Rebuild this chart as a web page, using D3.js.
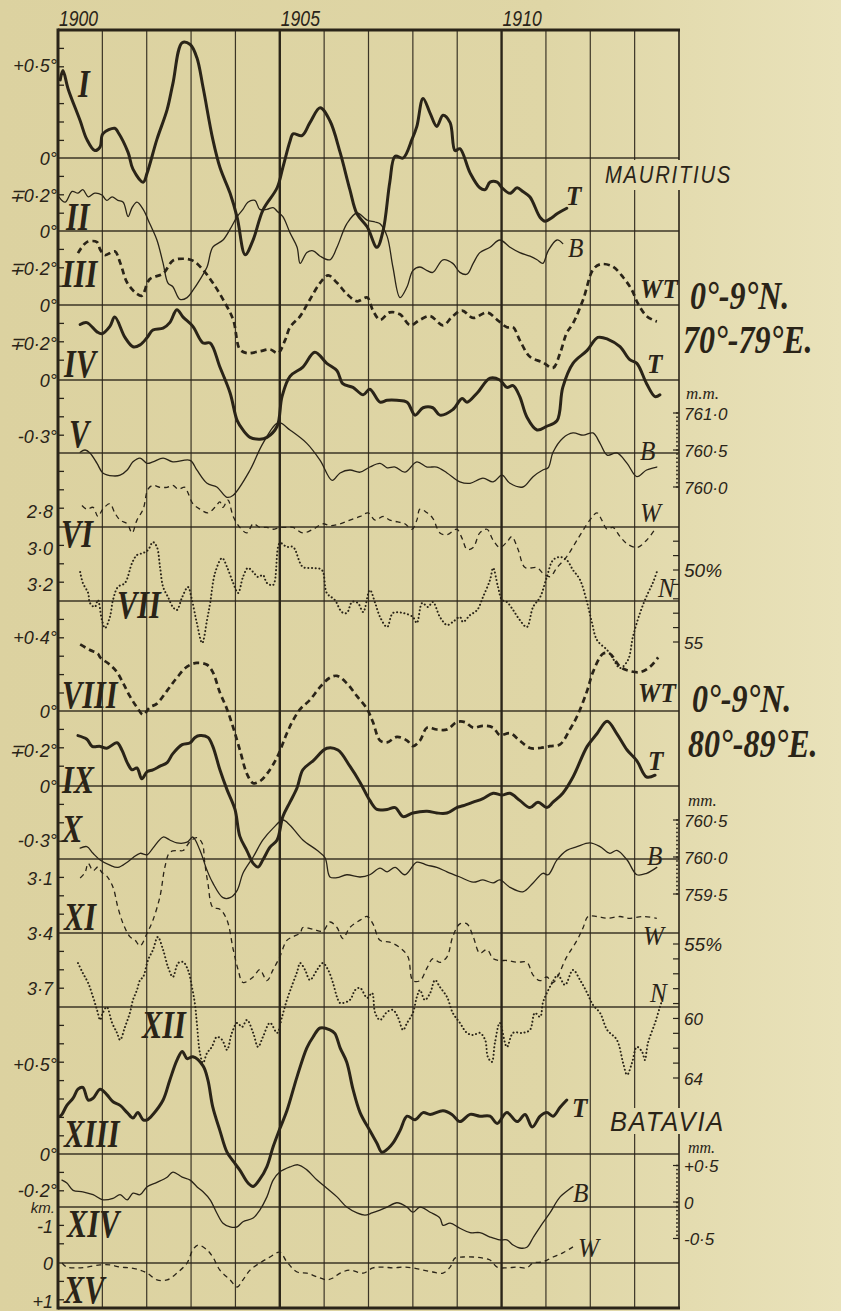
<!DOCTYPE html>
<html>
<head>
<meta charset="utf-8">
<script src="https://cdn.jsdelivr.net/npm/d3@7"></script>
<style>
  html, body { margin: 0; padding: 0; background: #ddd3a2; }
  svg { display: block; }
</style>
</head>
<body>
<svg id="chart" width="841" height="1311"></svg>
<script>
// ---- Year labels along the top ----
const yearLabels = [1900, 1905, 1910];

// ---- Mauritius ----
// I  : air temperature anomaly (deg)
const mauritiusTemp = [[1900.05,0.42],[1900.11,0.47],[1900.23,0.37],[1900.50,0.20],[1900.65,0.10],[1900.83,0.04],[1900.95,0.06],[1901.01,0.13],[1901.28,0.16],[1901.35,0.14],[1901.58,0.03],[1901.69,-0.06],[1901.92,-0.13],[1902.01,-0.08],[1902.23,0.10],[1902.46,0.26],[1902.59,0.40],[1902.80,0.62],[1902.98,0.61],[1903.13,0.54],[1903.27,0.38],[1903.49,0.10],[1903.65,-0.05],[1903.88,-0.19],[1904.04,-0.32],[1904.22,-0.52],[1904.40,-0.44],[1904.62,-0.28],[1904.94,-0.16],[1905.07,-0.05],[1905.23,0.09],[1905.30,0.13],[1905.50,0.12],[1905.68,0.19],[1905.91,0.27],[1906.13,0.20],[1906.36,0.03],[1906.58,-0.17],[1906.74,-0.30],[1906.97,-0.37],[1907.19,-0.48],[1907.33,-0.39],[1907.48,-0.13],[1907.60,0.01],[1907.78,0.00],[1907.98,0.10],[1908.09,0.17],[1908.23,0.32],[1908.39,0.24],[1908.54,0.17],[1908.68,0.23],[1908.84,0.19],[1908.95,0.04],[1909.06,0.05],[1909.29,-0.08],[1909.51,-0.16],[1909.63,-0.17],[1909.74,-0.13],[1909.90,-0.13],[1910.01,-0.16],[1910.19,-0.19],[1910.35,-0.16],[1910.48,-0.18],[1910.64,-0.21],[1910.87,-0.32],[1910.98,-0.34],[1911.14,-0.32],[1911.25,-0.30],[1911.47,-0.27]];
// II : barometric pressure (inverted, deg-equivalent)
const mauritiusPressure = [[1900.02,0.19],[1900.16,0.16],[1900.32,0.22],[1900.45,0.21],[1900.56,0.23],[1900.68,0.19],[1900.83,0.21],[1900.99,0.20],[1901.10,0.17],[1901.22,0.19],[1901.35,0.17],[1901.47,0.16],[1901.58,0.08],[1901.67,0.13],[1901.78,0.16],[1901.92,0.12],[1902.07,0.04],[1902.23,-0.05],[1902.37,-0.18],[1902.48,-0.29],[1902.59,-0.31],[1902.75,-0.38],[1902.91,-0.37],[1903.04,-0.33],[1903.20,-0.27],[1903.36,-0.20],[1903.49,-0.09],[1903.72,-0.05],[1903.88,0.01],[1904.04,0.08],[1904.17,0.12],[1904.28,0.16],[1904.44,0.17],[1904.55,0.12],[1904.71,0.12],[1904.85,0.13],[1904.94,0.11],[1905.07,0.08],[1905.23,-0.01],[1905.39,-0.09],[1905.46,-0.18],[1905.61,-0.12],[1905.75,-0.11],[1905.91,-0.14],[1906.13,-0.16],[1906.29,-0.09],[1906.51,0.04],[1906.74,0.10],[1906.97,0.06],[1907.15,0.05],[1907.26,0.04],[1907.42,-0.03],[1907.55,-0.20],[1907.71,-0.37],[1907.87,-0.31],[1908.00,-0.22],[1908.16,-0.20],[1908.32,-0.22],[1908.45,-0.23],[1908.68,-0.16],[1908.90,-0.18],[1909.06,-0.23],[1909.22,-0.24],[1909.36,-0.18],[1909.51,-0.12],[1909.74,-0.09],[1909.96,-0.05],[1910.19,-0.09],[1910.41,-0.12],[1910.64,-0.14],[1910.80,-0.16],[1910.93,-0.18],[1911.05,-0.11],[1911.25,-0.05],[1911.38,-0.07]];

// ---- 0-9 N, 70-79 E ----
// III : water temperature
const waterTempWest = [[1900.45,0.28],[1900.65,0.34],[1900.88,0.34],[1900.95,0.30],[1901.06,0.27],[1901.28,0.29],[1901.40,0.23],[1901.56,0.12],[1901.78,0.06],[1901.89,0.05],[1902.07,0.14],[1902.37,0.17],[1902.59,0.24],[1902.82,0.25],[1903.04,0.24],[1903.27,0.19],[1903.49,0.12],[1903.72,0.03],[1903.95,-0.08],[1904.10,-0.24],[1904.26,-0.26],[1904.55,-0.25],[1904.78,-0.24],[1904.96,-0.26],[1905.12,-0.19],[1905.23,-0.12],[1905.46,-0.06],[1905.68,0.03],[1905.91,0.12],[1906.09,0.16],[1906.29,0.12],[1906.51,0.06],[1906.74,0.02],[1906.97,0.04],[1907.10,-0.03],[1907.26,-0.08],[1907.48,-0.04],[1907.71,-0.05],[1907.94,-0.11],[1908.16,-0.08],[1908.39,-0.06],[1908.68,-0.11],[1908.90,-0.06],[1909.11,-0.03],[1909.36,-0.07],[1909.67,-0.04],[1909.90,-0.08],[1910.12,-0.12],[1910.26,-0.12],[1910.41,-0.19],[1910.64,-0.28],[1910.93,-0.31],[1911.16,-0.34],[1911.32,-0.26],[1911.47,-0.15],[1911.61,-0.10],[1911.84,0.03],[1912.06,0.19],[1912.22,0.22],[1912.49,0.21],[1912.74,0.15],[1912.94,0.08],[1913.07,0.01],[1913.27,-0.06],[1913.50,-0.09]];
// IV : air temperature
const airTempWest = [[1900.50,0.30],[1900.65,0.31],[1900.88,0.26],[1900.99,0.25],[1901.17,0.29],[1901.28,0.34],[1901.51,0.23],[1901.69,0.18],[1901.85,0.19],[1902.01,0.23],[1902.14,0.27],[1902.37,0.28],[1902.52,0.31],[1902.68,0.38],[1902.82,0.34],[1903.04,0.29],[1903.27,0.20],[1903.43,0.20],[1903.65,0.07],[1903.88,-0.07],[1904.04,-0.22],[1904.17,-0.27],[1904.33,-0.31],[1904.55,-0.32],[1904.71,-0.31],[1904.94,-0.25],[1905.05,-0.09],[1905.23,0.02],[1905.52,0.07],[1905.79,0.15],[1906.06,0.09],[1906.29,0.05],[1906.42,-0.02],[1906.65,-0.04],[1906.88,-0.08],[1907.03,-0.05],[1907.26,-0.12],[1907.42,-0.11],[1907.64,-0.11],[1907.87,-0.12],[1908.05,-0.19],[1908.23,-0.15],[1908.45,-0.15],[1908.61,-0.19],[1908.90,-0.16],[1909.11,-0.10],[1909.22,-0.12],[1909.45,-0.07],[1909.74,0.01],[1909.96,0.00],[1910.12,-0.04],[1910.26,-0.03],[1910.41,-0.09],[1910.57,-0.20],[1910.80,-0.27],[1911.02,-0.25],[1911.25,-0.22],[1911.38,-0.04],[1911.61,0.09],[1911.93,0.16],[1912.17,0.23],[1912.40,0.22],[1912.67,0.18],[1912.89,0.11],[1913.05,0.09],[1913.27,-0.02],[1913.46,-0.09],[1913.57,-0.08]];
// V : barometer (mm)
const pressureWest = [[1900.50,760.47],[1900.61,760.50],[1900.72,760.46],[1900.88,760.32],[1901.01,760.19],[1901.24,760.15],[1901.40,760.16],[1901.56,760.23],[1901.69,760.34],[1901.85,760.39],[1902.01,760.32],[1902.14,760.34],[1902.37,760.39],[1902.59,760.34],[1902.98,760.36],[1903.13,760.23],[1903.36,760.05],[1903.58,760.00],[1903.81,759.86],[1903.95,759.89],[1904.33,760.23],[1904.62,760.59],[1904.97,760.87],[1905.23,760.77],[1905.61,760.59],[1905.91,760.36],[1906.18,760.09],[1906.36,760.19],[1906.58,760.23],[1906.81,760.20],[1907.03,760.27],[1907.26,760.32],[1907.42,760.26],[1907.60,760.27],[1907.82,760.20],[1908.09,760.34],[1908.32,760.27],[1908.54,760.27],[1908.77,760.19],[1909.06,760.07],[1909.29,760.05],[1909.58,760.12],[1909.81,760.07],[1910.01,760.16],[1910.19,760.05],[1910.48,760.00],[1910.71,760.14],[1910.93,760.23],[1911.05,760.26],[1911.16,760.47],[1911.38,760.66],[1911.61,760.73],[1911.84,760.70],[1912.06,760.73],[1912.22,760.59],[1912.38,760.43],[1912.60,760.46],[1912.83,760.32],[1913.05,760.14],[1913.27,760.23],[1913.50,760.27]];
// VI : wind
const windWest = [[1900.54,2.77],[1900.65,2.79],[1900.79,2.78],[1900.90,2.83],[1901.01,2.79],[1901.17,2.76],[1901.28,2.81],[1901.40,2.85],[1901.56,2.87],[1901.67,2.92],[1901.78,2.85],[1901.92,2.79],[1902.03,2.68],[1902.14,2.66],[1902.30,2.67],[1902.46,2.67],[1902.59,2.66],[1902.71,2.68],[1902.86,2.67],[1902.93,2.70],[1903.04,2.76],[1903.20,2.79],[1903.38,2.81],[1903.54,2.78],[1903.65,2.75],[1903.72,2.78],[1903.83,2.74],[1903.95,2.83],[1904.10,2.89],[1904.26,2.92],[1904.40,2.87],[1904.55,2.89],[1904.71,2.89],[1904.85,2.90],[1905.00,2.89],[1905.16,2.89],[1905.30,2.89],[1905.52,2.92],[1905.75,2.90],[1905.97,2.87],[1906.13,2.88],[1906.36,2.87],[1906.58,2.85],[1906.81,2.83],[1906.99,2.81],[1907.15,2.85],[1907.33,2.83],[1907.48,2.85],[1907.66,2.86],[1907.82,2.87],[1907.98,2.90],[1908.09,2.85],[1908.16,2.79],[1908.32,2.81],[1908.45,2.84],[1908.61,2.92],[1908.77,2.93],[1908.99,2.90],[1909.11,2.95],[1909.22,3.01],[1909.36,3.00],[1909.51,2.92],[1909.67,2.90],[1909.81,2.96],[1909.96,3.00],[1910.12,2.97],[1910.23,2.94],[1910.37,3.01],[1910.53,3.11],[1910.80,3.11],[1910.93,3.14],[1911.09,3.16],[1911.25,3.11],[1911.47,3.05],[1911.70,2.96],[1911.99,2.85],[1912.15,2.81],[1912.26,2.85],[1912.38,2.90],[1912.51,2.89],[1912.67,2.94],[1912.83,2.98],[1913.05,3.00],[1913.27,2.96],[1913.46,2.90]];
// VII : cloud / humidity (%)
const cloudWest = [[1900.50,50.14],[1900.56,50.90],[1900.68,51.60],[1900.72,52.29],[1900.83,52.57],[1900.90,52.08],[1900.99,53.47],[1901.06,54.03],[1901.17,53.26],[1901.24,52.08],[1901.35,51.18],[1901.51,50.90],[1901.67,49.51],[1901.78,48.96],[1901.92,48.82],[1902.03,48.61],[1902.14,48.06],[1902.23,48.40],[1902.30,49.79],[1902.37,51.18],[1902.48,51.88],[1902.59,52.57],[1902.68,52.78],[1902.80,51.88],[1902.93,51.18],[1903.02,52.08],[1903.13,53.68],[1903.25,55.07],[1903.36,53.47],[1903.43,52.29],[1903.54,50.21],[1903.70,49.17],[1903.81,49.79],[1903.95,50.90],[1904.06,51.60],[1904.17,50.49],[1904.28,49.86],[1904.40,50.14],[1904.51,50.49],[1904.62,50.35],[1904.71,50.90],[1904.85,51.04],[1905.00,48.13],[1905.16,48.40],[1905.30,48.40],[1905.52,49.79],[1905.75,49.86],[1905.95,50.00],[1906.06,51.60],[1906.24,52.08],[1906.40,52.92],[1906.51,52.99],[1906.63,52.22],[1906.76,52.29],[1906.88,52.92],[1907.03,51.39],[1907.15,52.29],[1907.26,53.26],[1907.42,53.96],[1907.55,52.99],[1907.78,52.99],[1908.00,53.26],[1908.09,53.68],[1908.21,52.29],[1908.34,52.57],[1908.45,52.22],[1908.61,53.26],[1908.77,53.82],[1908.90,53.61],[1909.06,53.26],[1909.13,53.61],[1909.29,53.13],[1909.45,52.78],[1909.58,51.88],[1909.74,50.69],[1909.81,49.86],[1909.92,51.18],[1910.01,52.08],[1910.12,52.22],[1910.26,52.78],[1910.41,53.47],[1910.57,53.96],[1910.71,52.57],[1910.87,51.88],[1911.02,50.49],[1911.16,49.31],[1911.32,49.10],[1911.47,49.31],[1911.61,50.00],[1911.77,50.69],[1911.93,52.29],[1912.04,53.68],[1912.15,54.86],[1912.38,55.56],[1912.49,56.04],[1912.67,56.81],[1912.85,56.25],[1912.96,54.65],[1913.12,52.99],[1913.28,51.74],[1913.41,50.90],[1913.50,50.14]];

// ---- 0-9 N, 80-89 E ----
// VIII : water temperature
const waterTempEast = [[1900.50,0.36],[1900.72,0.33],[1900.90,0.31],[1900.95,0.29],[1901.17,0.25],[1901.33,0.21],[1901.47,0.15],[1901.62,0.08],[1901.78,0.02],[1901.92,-0.02],[1902.07,0.02],[1902.23,0.04],[1902.46,0.11],[1902.68,0.18],[1902.91,0.24],[1903.13,0.26],[1903.36,0.25],[1903.49,0.21],[1903.65,0.10],[1903.81,0.01],[1903.95,-0.09],[1904.10,-0.21],[1904.26,-0.34],[1904.40,-0.39],[1904.55,-0.38],[1904.71,-0.34],[1904.94,-0.25],[1905.16,-0.12],[1905.30,-0.05],[1905.46,0.01],[1905.68,0.06],[1905.91,0.13],[1906.13,0.18],[1906.29,0.19],[1906.51,0.15],[1906.74,0.08],[1906.97,0.01],[1907.10,-0.06],[1907.26,-0.16],[1907.42,-0.17],[1907.64,-0.14],[1907.87,-0.16],[1908.00,-0.19],[1908.16,-0.16],[1908.32,-0.09],[1908.54,-0.10],[1908.77,-0.10],[1908.99,-0.06],[1909.17,-0.06],[1909.36,-0.09],[1909.58,-0.08],[1909.81,-0.09],[1909.96,-0.13],[1910.19,-0.12],[1910.41,-0.16],[1910.64,-0.20],[1910.87,-0.20],[1911.09,-0.19],[1911.32,-0.18],[1911.54,-0.10],[1911.70,-0.03],[1911.93,0.11],[1912.06,0.21],[1912.29,0.31],[1912.44,0.31],[1912.67,0.24],[1912.83,0.22],[1913.12,0.21],[1913.35,0.24],[1913.53,0.29]];
// IX : air temperature
const airTempEast = [[1900.45,0.28],[1900.65,0.26],[1900.77,0.22],[1900.95,0.22],[1901.10,0.21],[1901.33,0.24],[1901.44,0.20],[1901.56,0.13],[1901.67,0.09],[1901.78,0.10],[1901.89,0.04],[1902.01,0.08],[1902.14,0.09],[1902.30,0.11],[1902.46,0.13],[1902.59,0.18],[1902.80,0.23],[1902.98,0.24],[1903.09,0.27],[1903.20,0.28],[1903.38,0.27],[1903.49,0.22],[1903.65,0.09],[1903.81,-0.02],[1903.99,-0.13],[1904.10,-0.28],[1904.26,-0.36],[1904.40,-0.43],[1904.51,-0.45],[1904.62,-0.41],[1904.78,-0.34],[1904.94,-0.30],[1905.07,-0.17],[1905.23,-0.09],[1905.39,-0.01],[1905.52,0.09],[1905.75,0.14],[1906.06,0.21],[1906.31,0.20],[1906.58,0.11],[1906.81,0.02],[1907.03,-0.08],[1907.19,-0.13],[1907.42,-0.13],[1907.60,-0.12],[1907.78,-0.17],[1908.00,-0.15],[1908.32,-0.14],[1908.54,-0.15],[1908.77,-0.15],[1908.99,-0.12],[1909.13,-0.11],[1909.36,-0.09],[1909.58,-0.07],[1909.81,-0.04],[1910.01,-0.05],[1910.19,-0.04],[1910.41,-0.08],[1910.64,-0.12],[1910.82,-0.09],[1911.02,-0.12],[1911.16,-0.09],[1911.38,-0.04],[1911.61,0.05],[1911.93,0.22],[1912.15,0.29],[1912.38,0.36],[1912.60,0.29],[1912.83,0.20],[1913.05,0.14],[1913.27,0.05],[1913.46,0.06]];
// X : barometer (mm)
const pressureEast = [[1900.50,760.12],[1900.65,760.14],[1900.79,760.05],[1900.95,759.96],[1901.17,759.89],[1901.35,759.86],[1901.56,759.93],[1901.69,759.99],[1901.85,760.05],[1902.01,760.03],[1902.14,760.12],[1902.37,760.27],[1902.52,760.23],[1902.68,760.19],[1902.91,760.20],[1903.04,760.27],[1903.20,760.09],[1903.36,759.82],[1903.49,759.65],[1903.72,759.45],[1903.88,759.45],[1904.04,759.55],[1904.17,759.78],[1904.40,760.00],[1904.62,760.23],[1904.85,760.39],[1905.07,760.50],[1905.23,760.43],[1905.52,760.23],[1905.84,760.09],[1906.02,759.99],[1906.13,759.73],[1906.29,759.72],[1906.51,759.76],[1906.81,759.73],[1907.03,759.76],[1907.26,759.85],[1907.42,759.80],[1907.60,759.86],[1907.82,759.76],[1908.09,759.93],[1908.32,759.89],[1908.54,759.86],[1908.77,759.80],[1909.06,759.73],[1909.36,759.66],[1909.58,759.69],[1909.81,759.65],[1909.96,759.69],[1910.19,759.59],[1910.48,759.53],[1910.71,759.65],[1910.93,759.78],[1911.05,759.76],[1911.25,759.96],[1911.47,760.09],[1911.70,760.14],[1911.99,760.19],[1912.22,760.14],[1912.44,760.05],[1912.60,760.09],[1912.83,759.96],[1913.05,759.76],[1913.27,759.78],[1913.50,759.86]];
// XI : wind
const windEast = [[1900.50,3.10],[1900.61,3.07],[1900.68,3.02],[1900.79,3.06],[1900.90,3.04],[1900.99,3.07],[1901.10,3.09],[1901.24,3.15],[1901.35,3.26],[1901.47,3.35],[1901.62,3.42],[1901.74,3.44],[1901.85,3.47],[1902.01,3.40],[1902.14,3.33],[1902.30,3.20],[1902.41,3.04],[1902.52,2.96],[1902.68,2.95],[1902.82,2.95],[1902.98,2.90],[1903.13,2.88],[1903.25,2.91],[1903.31,3.02],[1903.38,3.13],[1903.49,3.26],[1903.65,3.27],[1903.81,3.33],[1903.95,3.49],[1904.06,3.60],[1904.17,3.67],[1904.40,3.64],[1904.55,3.60],[1904.71,3.66],[1904.85,3.60],[1905.00,3.53],[1905.16,3.44],[1905.30,3.42],[1905.46,3.40],[1905.52,3.37],[1905.75,3.38],[1905.97,3.39],[1906.13,3.34],[1906.29,3.37],[1906.42,3.43],[1906.58,3.37],[1906.81,3.33],[1906.97,3.31],[1907.10,3.35],[1907.26,3.44],[1907.48,3.45],[1907.71,3.48],[1907.89,3.53],[1908.00,3.66],[1908.16,3.66],[1908.32,3.59],[1908.45,3.54],[1908.61,3.56],[1908.77,3.53],[1908.90,3.42],[1909.06,3.35],[1909.22,3.35],[1909.36,3.42],[1909.51,3.51],[1909.67,3.49],[1909.81,3.54],[1909.96,3.55],[1910.12,3.55],[1910.35,3.56],[1910.57,3.56],[1910.71,3.63],[1910.87,3.66],[1911.02,3.64],[1911.16,3.67],[1911.47,3.53],[1911.70,3.44],[1911.84,3.37],[1911.95,3.31],[1912.15,3.31],[1912.38,3.32],[1912.67,3.31],[1912.89,3.32],[1913.19,3.31],[1913.50,3.32]];
// XII : cloud / humidity (%)
const cloudEast = [[1900.45,56.28],[1900.56,56.95],[1900.68,57.62],[1900.79,58.56],[1900.88,59.43],[1900.95,60.10],[1901.01,59.63],[1901.10,59.23],[1901.22,60.30],[1901.33,60.97],[1901.40,61.44],[1901.51,60.57],[1901.62,59.63],[1901.69,58.76],[1901.78,58.09],[1901.85,57.42],[1901.92,57.21],[1902.03,56.07],[1902.14,55.40],[1902.25,54.53],[1902.37,55.40],[1902.48,56.54],[1902.59,57.21],[1902.71,56.28],[1902.82,56.21],[1902.93,56.74],[1903.02,57.89],[1903.09,59.09],[1903.13,60.30],[1903.20,62.32],[1903.27,62.99],[1903.36,62.32],[1903.47,61.91],[1903.58,61.24],[1903.70,61.44],[1903.81,62.11],[1903.92,60.97],[1904.04,60.30],[1904.15,60.57],[1904.26,60.10],[1904.40,60.97],[1904.51,61.91],[1904.62,61.24],[1904.78,60.30],[1904.94,60.97],[1905.05,59.90],[1905.16,58.76],[1905.28,57.75],[1905.39,56.88],[1905.46,56.28],[1905.57,56.74],[1905.68,57.42],[1905.84,56.74],[1905.97,56.28],[1906.09,56.74],[1906.20,57.62],[1906.29,58.56],[1906.36,58.96],[1906.58,58.76],[1906.70,58.09],[1906.81,57.95],[1906.97,58.62],[1907.08,58.29],[1907.15,59.63],[1907.26,60.10],[1907.42,59.56],[1907.55,59.43],[1907.66,59.90],[1907.78,60.77],[1907.87,60.30],[1908.00,59.63],[1908.09,58.56],[1908.16,58.09],[1908.27,58.76],[1908.39,58.29],[1908.50,57.42],[1908.61,57.89],[1908.77,58.56],[1908.90,59.63],[1909.06,60.30],[1909.22,60.97],[1909.36,61.11],[1909.51,60.97],[1909.63,61.44],[1909.69,62.58],[1909.78,62.92],[1909.85,61.64],[1909.96,60.30],[1910.12,61.91],[1910.26,60.97],[1910.48,60.97],[1910.64,60.77],[1910.75,59.63],[1910.87,59.90],[1910.93,58.96],[1911.02,58.29],[1911.14,57.62],[1911.27,57.08],[1911.43,57.75],[1911.61,56.74],[1911.77,57.42],[1911.93,58.29],[1912.06,59.09],[1912.22,59.63],[1912.38,60.77],[1912.60,61.44],[1912.74,62.99],[1912.83,63.79],[1912.94,62.99],[1913.05,61.91],[1913.17,62.25],[1913.23,62.79],[1913.30,61.64],[1913.46,60.30],[1913.57,59.23],[1913.62,58.76]];

// ---- Batavia ----
// XIII : air temperature
const bataviaTemp = [[1900.05,0.21],[1900.09,0.22],[1900.20,0.27],[1900.34,0.31],[1900.45,0.36],[1900.56,0.37],[1900.68,0.30],[1900.79,0.31],[1900.95,0.36],[1901.10,0.33],[1901.24,0.29],[1901.40,0.27],[1901.56,0.23],[1901.69,0.20],[1901.80,0.23],[1901.92,0.19],[1902.01,0.19],[1902.14,0.22],[1902.37,0.30],[1902.52,0.41],[1902.68,0.52],[1902.80,0.57],[1902.91,0.53],[1903.04,0.54],[1903.27,0.49],[1903.38,0.41],[1903.49,0.26],[1903.65,0.13],[1903.81,0.01],[1903.95,-0.04],[1904.10,-0.09],[1904.28,-0.16],[1904.40,-0.18],[1904.55,-0.14],[1904.71,-0.07],[1904.85,0.04],[1905.00,0.14],[1905.16,0.24],[1905.39,0.43],[1905.61,0.59],[1905.75,0.65],[1905.91,0.70],[1906.13,0.69],[1906.24,0.67],[1906.36,0.59],[1906.51,0.51],[1906.65,0.36],[1906.81,0.23],[1907.03,0.13],[1907.19,0.06],[1907.30,0.01],[1907.44,0.03],[1907.55,0.06],[1907.71,0.13],[1907.87,0.21],[1908.05,0.19],[1908.23,0.23],[1908.39,0.22],[1908.68,0.24],[1908.88,0.22],[1909.06,0.18],[1909.29,0.22],[1909.51,0.21],[1909.74,0.21],[1909.90,0.17],[1910.12,0.23],[1910.35,0.18],[1910.53,0.22],[1910.69,0.15],[1910.87,0.21],[1911.02,0.23],[1911.16,0.21],[1911.32,0.26],[1911.47,0.30]];
// XIV : barometer anomaly (mm)
const bataviaPressure = [[1900.09,0.30],[1900.20,0.26],[1900.34,0.16],[1900.56,0.14],[1900.79,0.10],[1901.01,0.03],[1901.24,0.05],[1901.40,0.10],[1901.56,0.03],[1901.69,0.12],[1901.85,0.10],[1902.01,0.21],[1902.23,0.27],[1902.46,0.34],[1902.59,0.41],[1902.80,0.34],[1902.98,0.30],[1903.13,0.21],[1903.27,0.14],[1903.43,0.03],[1903.58,-0.15],[1903.72,-0.29],[1903.88,-0.34],[1904.04,-0.34],[1904.17,-0.27],[1904.40,-0.22],[1904.55,-0.11],[1904.71,0.07],[1904.85,0.30],[1905.00,0.41],[1905.23,0.48],[1905.41,0.51],[1905.61,0.44],[1905.84,0.30],[1906.06,0.19],[1906.29,0.07],[1906.51,-0.07],[1906.74,-0.15],[1906.92,-0.18],[1907.08,-0.15],[1907.26,-0.11],[1907.42,-0.07],[1907.64,-0.01],[1907.87,-0.07],[1908.00,-0.14],[1908.16,-0.07],[1908.39,-0.14],[1908.61,-0.22],[1908.68,-0.32],[1908.84,-0.29],[1909.06,-0.36],[1909.29,-0.42],[1909.51,-0.42],[1909.74,-0.48],[1909.96,-0.52],[1910.12,-0.52],[1910.26,-0.59],[1910.41,-0.63],[1910.57,-0.62],[1910.71,-0.49],[1910.87,-0.34],[1911.09,-0.15],[1911.32,0.07],[1911.61,0.21]];
// XV : wind (km)
const bataviaWind = [[1900.09,0.00],[1900.20,0.11],[1900.43,0.13],[1900.65,0.11],[1900.95,0.05],[1901.17,0.05],[1901.40,0.11],[1901.62,0.13],[1901.85,0.19],[1902.01,0.27],[1902.23,0.45],[1902.46,0.45],[1902.68,0.27],[1902.91,0.00],[1903.04,-0.35],[1903.16,-0.48],[1903.36,-0.35],[1903.49,-0.16],[1903.65,0.19],[1903.88,0.45],[1904.04,0.64],[1904.17,0.45],[1904.33,0.19],[1904.55,0.00],[1904.78,-0.16],[1905.00,-0.29],[1905.16,-0.03],[1905.39,0.24],[1905.61,0.27],[1905.84,0.37],[1906.06,0.45],[1906.20,0.40],[1906.36,0.27],[1906.58,0.19],[1906.88,0.27],[1907.10,0.13],[1907.33,0.11],[1907.55,0.13],[1907.78,0.11],[1908.00,0.13],[1908.23,0.19],[1908.45,0.24],[1908.68,0.27],[1908.84,0.11],[1908.95,-0.13],[1909.13,-0.16],[1909.36,-0.16],[1909.58,-0.13],[1909.74,-0.08],[1909.90,0.11],[1910.12,0.13],[1910.35,0.11],[1910.57,0.13],[1910.71,0.00],[1910.93,-0.03],[1911.16,-0.16],[1911.38,-0.27],[1911.61,-0.43]];

// ---- Scale labels (text, series, value) ----
const leftScaleLabels = [
  ['+0·5°','I',0.5],['0°','I',0],['∓0·2°','II',0.2],['0°','II',0],['∓0·2°','III',0.2],['0°','III',0],
  ['∓0·2°','IV',0.2],['0°','IV',0],['-0·3°','IV',-0.3],['2·8','VI',2.8],['3·0','VI',3.0],['3·2','VI',3.2],
  ['+0·4°','VIII',0.4],['0°','VIII',0],['∓0·2°','IX',0.2],['0°','IX',0],['-0·3°','IX',-0.3],
  ['3·1','XI',3.1],['3·4','XI',3.4],['3·7','XI',3.7],['+0·5°','XIII',0.5],['0°','XIII',0],['-0·2°','XIII',-0.2],
  ['-1','XV',-1],['0','XV',0],['+1','XV',1]
];
const rightScaleLabels = [
  ['761·0','V',761],['760·5','V',760.5],['760·0','V',760],['50%','VII',50],['55','VII',55],
  ['760·5','X',760.5],['760·0','X',760],['759·5','X',759.5],['55%','XII',55],['60','XII',60],['64','XII',64],
  ['+0·5','XIV',0.5],['0','XIV',0],['-0·5','XIV',-0.5]
];
const pressureTicks = { V: [761, 760.5, 760], X: [760.5, 760, 759.5], XIV: [0.5, 0, -0.5] };
const percentTicks = { VII: [48, 49, 50, 51, 52, 53, 54, 55], XII: [55, 56, 57, 58, 59, 60, 61, 62, 63, 64] };
const regionHeadings = [['0°-9°N.', '70°-79°E.'], ['0°-9°N.', '80°-89°E.']];

// ---------------------------------------------------------------
const INK = '#2a2418';
const svg = d3.select('#chart');
const W = 841, H = 1311;
const plotL = 58, plotR = 679, plotT = 30, plotB = 1308;

const defs = svg.append('defs');
const grad = defs.append('linearGradient').attr('id', 'paper')
  .attr('gradientUnits', 'userSpaceOnUse').attr('x1', 0).attr('y1', 0).attr('x2', W).attr('y2', 0);
grad.append('stop').attr('offset', '0%').attr('stop-color', '#dcd2a0');
grad.append('stop').attr('offset', '65%').attr('stop-color', '#dfd6a6');
grad.append('stop').attr('offset', '100%').attr('stop-color', '#e9e2ba');
svg.append('rect').attr('width', W).attr('height', H).attr('fill', 'url(#paper)');

const x = d3.scaleLinear().domain([1900, 1914]).range([plotL, plotR]);

// one vertical scale per curve (layout)
const panels = [
  { id: 'I',    data: mauritiusTemp,     dom: [0, 0.5],       rng: [158, 65],        kind: 'heavy',     num: [78, 97] },
  { id: 'II',   data: mauritiusPressure, dom: [0, 0.2],       rng: [231, 195],       kind: 'light',     num: [66, 230] },
  { id: 'III',  data: waterTempWest,     dom: [0, 0.2],       rng: [305, 268],       kind: 'heavyDash', num: [62, 287] },
  { id: 'IV',   data: airTempWest,       dom: [0, 0.2],       rng: [380, 343],       kind: 'heavy',     num: [64, 377] },
  { id: 'V',    data: pressureWest,      dom: [760, 761],     rng: [487, 413],       kind: 'light',     num: [69, 447] },
  { id: 'VI',   data: windWest,          dom: [2.8, 3.0],     rng: [511, 547.5],     kind: 'lightDash', num: [61, 547] },
  { id: 'VII',  data: cloudWest,         dom: [50, 55],       rng: [570, 642],       kind: 'dot',       num: [117, 618] },
  { id: 'VIII', data: waterTempEast,     dom: [0, 0.4],       rng: [711, 637],       kind: 'heavyDash', num: [62, 708] },
  { id: 'IX',   data: airTempEast,       dom: [0, 0.2],       rng: [786, 750],       kind: 'heavy',     num: [62, 793] },
  { id: 'X',    data: pressureEast,      dom: [759.5, 760.5], rng: [894, 820],       kind: 'light',     num: [62, 842] },
  { id: 'XI',   data: windEast,          dom: [3.1, 3.7],     rng: [878, 988],       kind: 'lightDash', num: [64, 930] },
  { id: 'XII',  data: cloudEast,         dom: [55, 64],       rng: [944, 1078],      kind: 'dot',       num: [142, 1038] },
  { id: 'XIII', data: bataviaTemp,       dom: [0, 0.5],       rng: [1154, 1064],     kind: 'heavy',     num: [64, 1147] },
  { id: 'XIV',  data: bataviaPressure,   dom: [-0.5, 0.5],    rng: [1238.5, 1165.5], kind: 'light',     num: [67, 1237] },
  { id: 'XV',   data: bataviaWind,       dom: [-1, 1],        rng: [1225.5, 1300.5], kind: 'lightDash', num: [64, 1303] }
];
const yOf = {};
panels.forEach(p => { p.y = d3.scaleLinear().domain(p.dom).range(p.rng); yOf[p.id] = p.y; });

// ---- grid ----
const hRules = [158, 231, 305, 380, 453, 527, 601, 711, 786, 859, 933, 1007, 1154, 1207, 1263];
const grid = svg.append('g').attr('stroke', INK).attr('fill', 'none');
grid.selectAll('line.h').data(hRules).join('line')
  .attr('x1', plotL).attr('x2', plotR).attr('y1', d => d).attr('y2', d => d)
  .attr('stroke-width', 1.3).attr('opacity', 0.9);
const yearLines = d3.range(1901, 1914);
grid.selectAll('line.v').data(yearLines).join('line')
  .attr('x1', d => x(d)).attr('x2', d => x(d)).attr('y1', plotT).attr('y2', plotB)
  .attr('stroke-width', d => (d % 5 === 0 ? 2.4 : 1.2)).attr('opacity', d => (d % 5 === 0 ? 1 : 0.9));

// short ticks along the left edge
const stops = [plotT].concat(hRules).concat([plotB]);
const leftTicks = [];
for (let i = 0; i < stops.length - 1; i++) {
  for (let yy = stops[i] + 18.4; yy < stops[i + 1] - 6; yy += 18.4) leftTicks.push(yy);
}
grid.selectAll('line.lt').data(leftTicks).join('line')
  .attr('x1', plotL).attr('x2', plotL + 6).attr('y1', d => d).attr('y2', d => d).attr('stroke-width', 1.3);

// frame
grid.append('line').attr('x1', plotL).attr('x2', plotL).attr('y1', plotT - 1.5).attr('y2', plotB + 1.5).attr('stroke-width', 3);
grid.append('line').attr('x1', plotL).attr('x2', plotR + 1).attr('y1', plotT).attr('y2', plotT).attr('stroke-width', 3);
grid.append('line').attr('x1', plotL).attr('x2', plotR + 1).attr('y1', plotB).attr('y2', plotB).attr('stroke-width', 3);
grid.append('line').attr('x1', plotR).attr('x2', plotR).attr('y1', plotT).attr('y2', plotB).attr('stroke-width', 1.6);

// right-edge scale marks
Object.entries(pressureTicks).forEach(([id, vals]) => {
  const s = yOf[id];
  grid.append('line').attr('x1', plotR - 2).attr('x2', plotR - 2)
    .attr('y1', s(vals[0])).attr('y2', s(vals[vals.length - 1]))
    .attr('stroke-width', 1.8).attr('stroke-dasharray', '0.1 4').attr('stroke-linecap', 'round');
  vals.forEach(v => grid.append('line').attr('x1', plotR - 6).attr('x2', plotR).attr('y1', s(v)).attr('y2', s(v)).attr('stroke-width', 1.2));
});
Object.entries(percentTicks).forEach(([id, vals]) => {
  const s = yOf[id];
  vals.forEach(v => grid.append('line').attr('x1', plotR - 6).attr('x2', plotR).attr('y1', s(v)).attr('y2', s(v)).attr('stroke-width', 1.2));
});

// station names break the grid lines they sit on
function stationName(txt, tx, ty, size, sx, box) {
  svg.append('rect').attr('x', box[0]).attr('y', box[1]).attr('width', box[2]).attr('height', box[3]).attr('fill', 'url(#paper)');
  svg.append('text').attr('transform', `translate(${tx},${ty}) scale(${sx},1)`)
    .attr('font-family', 'Liberation Sans, Arial, sans-serif').attr('font-style', 'italic')
    .attr('font-size', size).attr('letter-spacing', 2).attr('fill', INK).text(txt);
}
stationName('MAURITIUS', 605, 183, 23, 0.88, [600, 160, 140, 30]);
stationName('BATAVIA', 610, 1131, 28, 0.91, [606, 1108, 124, 26]);

// ---- curves ----
const styles = {
  heavy:     { w: 3.0, dash: null, cap: 'round' },
  light:     { w: 1.3, dash: null, cap: 'round' },
  heavyDash: { w: 2.7, dash: '6 4', cap: 'butt' },
  lightDash: { w: 1.3, dash: '5 4', cap: 'butt' },
  dot:       { w: 2.0, dash: '0.1 3.6', cap: 'round' }
};
const curves = svg.append('g').attr('fill', 'none').attr('stroke', INK).attr('stroke-linejoin', 'round');
panels.forEach(p => {
  const st = styles[p.kind];
  const line = d3.line().x(d => x(d[0])).y(d => p.y(d[1])).curve(d3.curveCatmullRom.alpha(0.5));
  curves.append('path').attr('d', line(p.data))
    .attr('stroke-width', st.w).attr('stroke-linecap', st.cap)
    .attr('stroke-dasharray', st.dash);
});

// ---- text ----
const serif = 'Liberation Serif, Times New Roman, serif';
const sans = 'Liberation Sans, Arial, sans-serif';

// years on top
svg.append('g').selectAll('text').data(yearLabels).join('text')
  .attr('transform', d => `translate(${x(d) + 1},26) scale(0.8,1)`)
  .attr('font-family', sans).attr('font-style', 'italic').attr('font-size', 22).attr('fill', INK)
  .text(d => d);

// roman numerals
svg.append('g').selectAll('text').data(panels).join('text')
  .attr('transform', d => `translate(${d.num[0]},${d.num[1]}) scale(0.74,1)`)
  .attr('font-family', serif).attr('font-style', 'italic').attr('font-weight', 'bold')
  .attr('font-size', 41).attr('fill', INK).text(d => d.id);

// left scale labels
svg.append('g').selectAll('text').data(leftScaleLabels).join('text')
  .attr('x', d => (d[0].includes('°') ? 57 : 53)).attr('y', d => yOf[d[1]](d[2]) + 7)
  .attr('text-anchor', 'end')
  .attr('font-family', sans).attr('font-style', 'italic').attr('font-size', 18).attr('fill', INK)
  .text(d => d[0]);
svg.append('text').attr('x', 55).attr('y', 1213).attr('text-anchor', 'end')
  .attr('font-family', sans).attr('font-style', 'italic').attr('font-size', 15).attr('fill', INK).text('km.');

// right scale labels
svg.append('g').selectAll('text').data(rightScaleLabels).join('text')
  .attr('x', 684).attr('y', d => yOf[d[1]](d[2]) + 6.5)
  .attr('font-family', sans).attr('font-style', 'italic')
  .attr('font-size', d => (d[0].includes('%') ? 19 : 17)).attr('fill', INK)
  .text(d => d[0]);
[['m.m.', 686, 399, 17], ['mm.', 688, 806, 17], ['mm.', 688, 1152.5, 16]].forEach(([t, tx, ty, fs]) => {
  svg.append('text').attr('x', tx).attr('y', ty).attr('font-family', serif).attr('font-style', 'italic')
    .attr('font-size', fs).attr('fill', INK).text(t);
});

// curve tags at the right ends
const tags = [
  ['T', 566, 205, true], ['B', 568, 257, false], ['WT', 640, 298, true],
  ['T', 647, 373, true], ['B', 640, 460, false], ['W', 640, 522, false], ['N', 658, 597, false],
  ['WT', 638, 702, true], ['T', 648, 770, true], ['B', 647, 865, false], ['W', 643, 945, false], ['N', 650, 1002, false],
  ['T', 572, 1117, true], ['B', 573, 1202, false], ['W', 578, 1257, false]
];
svg.append('g').selectAll('text').data(tags).join('text')
  .attr('transform', d => `translate(${d[1]},${d[2]}) scale(0.9,1)`)
  .attr('font-family', serif).attr('font-style', 'italic').attr('font-weight', d => (d[3] ? 'bold' : 'normal'))
  .attr('font-size', 28).attr('fill', INK).text(d => d[0]);

// region headings, two lines each
[[690, 309, 683, 353], [692, 712, 688, 757]].forEach(([x1, y1, x2, y2], i) => {
  [[regionHeadings[i][0], x1, y1], [regionHeadings[i][1], x2, y2]].forEach(([t, tx, ty]) => {
    svg.append('text').attr('transform', `translate(${tx},${ty}) scale(0.8,1)`)
      .attr('font-family', serif).attr('font-style', 'italic').attr('font-weight', 'bold')
      .attr('font-size', 40).attr('fill', INK).text(t);
  });
});
</script>
</body>
</html>
